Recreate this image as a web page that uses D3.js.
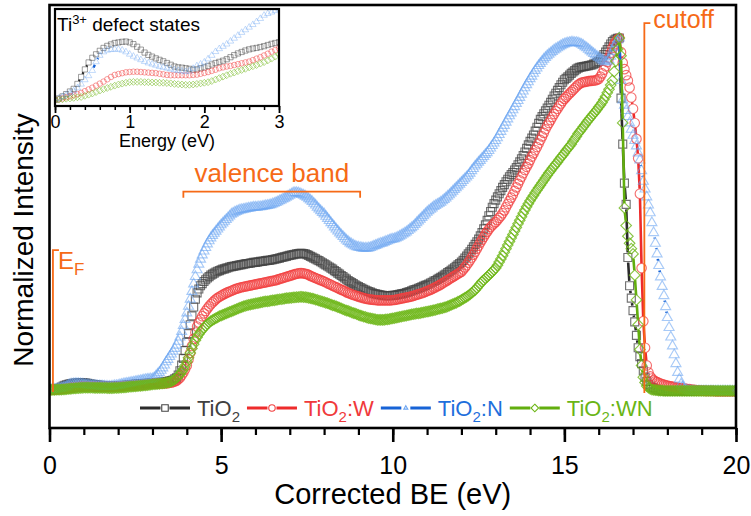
<!DOCTYPE html>
<html>
<head>
<meta charset="utf-8">
<script src="https://cdn.jsdelivr.net/npm/d3@7"></script>
<style>
  body { margin: 0; background: #fff; }
  svg { display: block; }
  text { font-family: "Liberation Sans", Arial, sans-serif; }
</style>
</head>
<body>
<svg id="chart" width="751" height="516"></svg>
<script>
// Valence-band / secondary-edge spectra, normalised so the edge maximum = 1000.
// Sampled every 0.05 eV from 0 to 20 eV (one row per eV).
const energy = d3.range(401).map(i => +(i * 0.05).toFixed(2));

const tio2 = [
  5.9,6.4,7.1,7.9,8.8,9.7,11.4,13.8,16.4,18.8,20.4,21.6,22.8,23.8,24.5,25.0,25.5,25.7,25.9,26.0,
  25.7,25.1,24.2,23.2,22.2,21.4,20.8,20.2,19.7,19.2,18.6,18.0,17.4,17.1,17.0,16.8,16.6,16.3,16.4,16.8,
  17.1,17.6,18.1,18.6,19.0,19.4,19.9,20.6,21.3,21.9,22.4,22.9,23.3,23.6,23.8,24.1,24.4,24.8,25.2,25.5,
  25.8,26,26,26,27,27,28,28,29,30,31,32,34,37,40,48,60,76,95,117,
  140,165,190,215,240,262,280,291,300,306,312,317,322,326,330,333,336,339,341,343,
  345,347,348,350,351,353,354,355,356,357,358,359,360,361,362,363,363,364,365,366,
  366,367,368,369,369,370,371,372,372,373,374,375,376,377,378,380,381,382,383,385,
  386,387,388,389,390,391,392,392,391,390,388,386,383,381,378,376,373,371,368,365,
  362,359,356,353,350,347,343,340,336,333,329,326,322,319,315,312,309,306,303,300,
  298,295,293,290,288,286,284,282,280,278,277,276,275,274,273,272,272,272,272,272,
  273,273,274,275,276,277,278,279,281,282,284,286,288,289,291,293,295,297,299,301,
  303,305,308,310,313,315,318,321,324,327,330,333,337,340,344,347,351,355,359,363,
  367,372,378,384,390,396,403,410,417,424,432,441,450,461,472,485,498,510,522,532,
  542,551,560,569,578,586,594,601,608,614,620,627,634,642,650,659,668,678,688,698,
  708,717,726,737,748,759,770,778,786,794,802,810,818,827,836,844,852,860,868,875,
  882,886,890,895,900,904,908,912,915,917,918,919,920,921,922,923,924,926,928,931,
  934,940,946,953,960,967,975,983,990,994,997,999,1000,830,700,590,530,380,300,265,
  230,198,160,125,100,80,60,42,30,22,17,13,11,8,6,5,4,4,3,3,
  2,2,2,2,2,2,2,2,2,2,2,2,2,2,2,2,2,2,2,2,
  2,2,2,2,2,2,2,2,2,2,2,2,2,2,2,2,2,2,2,2,
  2
];

const tio2W = [
  5.9,6.1,6.4,6.8,7.1,7.5,7.9,8.3,8.9,9.5,10.1,10.8,11.5,12.2,13.0,13.8,14.5,14.8,15.1,15.4,
  15.5,15.6,15.6,15.5,15.4,15.3,15.2,15.1,14.9,14.7,14.5,14.4,14.4,14.4,14.4,14.4,14.4,14.5,14.6,14.9,
  15.2,15.5,15.9,16.3,16.8,17.1,17.4,17.6,17.9,18.2,18.5,18.8,19.1,19.6,20.1,20.6,21.2,21.8,22.5,23.1,
  23.7,24,24,24,24,24,24,25,25,25,26,27,28,30,32,36,40,47,55,64,
  75,92,110,130,150,168,185,196,205,214,222,229,236,242,248,253,258,262,266,269,
  272,275,277,280,282,284,286,288,290,292,293,295,296,297,298,299,300,301,302,303,
  304,305,306,307,308,309,310,311,312,313,314,315,316,318,319,321,322,324,325,327,
  328,330,331,333,334,335,336,336,335,334,333,331,328,326,324,322,320,318,316,314,
  312,310,307,305,303,300,298,296,294,291,289,287,285,282,280,278,276,274,273,271,
  270,268,267,265,264,263,262,261,261,260,260,259,259,259,259,259,259,259,259,259,
  260,260,261,262,263,264,265,266,267,268,269,270,272,273,275,276,278,279,281,283,
  285,287,289,291,294,296,299,301,304,307,310,313,316,319,322,325,328,331,334,337,
  340,346,352,358,365,372,380,388,396,405,413,422,430,438,446,453,460,466,471,476,
  480,486,492,498,505,513,522,531,540,549,558,568,578,588,598,608,618,627,636,645,
  655,665,674,683,692,702,712,722,732,742,752,760,768,777,785,793,800,808,815,822,
  828,833,838,843,848,853,858,863,868,871,874,875,876,877,878,879,879,880,880,882,
  884,891,900,910,920,932,945,958,972,982,990,996,1000,960,930,912,895,880,860,832,
  800,760,715,660,560,350,200,125,75,55,44,38,33,30,28,26,24,22,21,19,
  18,17,16,15,14,13,12,11,11,10,10,9,8,8,7,6,6,5,5,4,
  4,4,3,3,3,3,3,3,2,2,2,2,2,2,2,2,2,2,2,2,
  2
];

const tio2N = [
  5.9,6.4,7.0,7.6,8.3,9.0,10.0,11.3,12.8,14.2,16.0,19.0,21.2,22.4,23.0,23.2,23.3,23.3,23.0,22.4,
  21.6,20.9,20.3,19.7,19.1,18.6,18.2,17.8,17.4,17.1,16.8,16.5,16.2,16.0,15.8,15.6,15.8,16.7,17.6,18.2,
  18.9,20.0,21.2,22.5,23.5,24.3,25.1,26.1,27.1,28.1,29.1,30.0,30.9,31.8,32.8,33.9,35.0,35.6,36.1,36.6,
  37.1,40,45,50,55,61,68,76,85,92,100,107,115,123,132,143,155,171,188,205,
  223,242,262,284,305,326,345,361,375,387,398,408,418,427,435,442,448,454,460,466,
  472,477,482,487,492,497,502,505,508,510,512,514,515,516,517,518,519,520,521,522,
  522,522,523,523,524,525,526,527,528,529,531,533,535,537,540,542,545,547,550,553,
  556,559,562,563,563,562,560,558,556,553,550,546,542,538,533,528,522,517,512,507,
  503,496,490,484,478,472,466,460,455,449,444,439,434,429,425,421,418,415,412,410,
  409,408,407,406,406,406,407,408,410,412,414,416,418,420,421,423,425,427,429,431,
  432,433,435,437,440,443,446,449,452,456,460,464,468,473,478,483,488,493,498,503,
  508,512,516,520,524,527,530,533,536,540,544,548,553,557,562,567,572,577,582,587,
  592,597,602,607,612,618,625,631,638,643,649,654,660,665,671,676,682,689,696,703,
  710,718,727,736,745,753,762,771,780,788,797,806,815,823,832,841,850,859,868,876,
  885,892,900,908,915,922,928,934,940,945,950,954,958,962,966,969,972,975,978,981,
  983,985,986,987,988,988,987,987,986,984,982,979,975,972,968,964,960,956,952,948,
  945,941,938,935,932,934,938,948,962,974,985,994,1000,880,825,810,795,778,760,742,
  725,710,695,675,655,625,595,573,551,528,506,478,450,420,390,357,325,298,272,241,
  210,182,155,130,105,80,55,36,22,14,9,6,4,3,3,2,2,2,2,2,
  2,2,2,2,2,2,2,2,2,2,2,2,2,2,2,2,2,2,2,2,
  2
];

const tio2WN = [
  5.9,6.0,6.1,6.3,6.4,6.6,6.8,6.9,7.3,7.7,8.1,8.6,9.1,9.6,10.0,10.4,10.8,11.2,11.5,11.8,
  12.0,12.1,12.1,12.1,12.0,12.0,11.9,11.9,11.8,11.8,11.7,11.6,11.4,11.3,11.2,11.1,11.1,11.2,11.4,11.6,
  11.8,12.0,12.4,12.9,13.4,13.9,14.4,14.9,15.3,15.8,16.2,16.6,17.1,17.5,17.9,18.4,18.9,19.5,20.1,20.8,
  21.5,22,22,23,23,24,24,25,26,27,28,30,33,36,40,45,50,57,64,74,
  85,97,110,123,135,146,155,163,170,176,182,187,192,196,200,203,206,209,211,214,
  216,218,220,222,224,226,228,230,232,234,236,238,240,242,243,245,246,247,248,249,
  250,251,252,253,254,255,256,256,257,258,259,259,260,261,262,262,263,264,265,265,
  266,266,267,267,268,268,269,269,268,268,267,266,265,264,263,261,260,258,257,255,
  254,252,251,249,247,245,244,242,240,238,236,234,232,230,229,227,225,223,222,220,
  218,216,215,213,212,210,209,208,207,206,205,204,204,204,204,204,205,205,206,207,
  208,209,210,211,212,213,214,215,216,217,218,219,220,221,222,222,223,224,225,226,
  227,228,229,230,231,232,234,235,236,237,239,240,242,244,246,248,250,252,255,257,
  260,263,266,269,272,276,280,284,288,294,300,306,312,316,321,325,330,335,340,345,
  350,358,367,376,385,395,405,415,425,435,445,455,465,475,485,495,505,514,523,532,
  540,548,555,563,570,577,584,591,598,605,612,619,625,632,638,644,650,657,663,669,
  675,682,688,694,700,708,715,722,730,736,742,749,755,762,768,774,780,786,792,798,
  805,811,818,826,835,845,855,867,880,905,935,968,1000,950,760,520,470,440,420,405,
  390,330,260,190,120,75,42,27,17,12,9,7,6,5,5,4,4,4,3,3,
  3,3,3,3,3,3,3,3,3,3,3,3,3,3,3,3,3,3,3,3,
  3,3,3,3,3,3,3,3,3,3,3,3,3,3,3,3,3,3,3,3,
  3
];

const seriesLabels = [["TiO", "2", ""], ["TiO", "2", ":W"], ["TiO", "2", ":N"], ["TiO", "2", ":WN"]];
const xTickLabels = [0, 5, 10, 15, 20];
const insetTickLabels = [0, 1, 2, 3];

// Annotation anchors (eV on x, normalised intensity on y)
const fermiLevel = 0.1;
const cutoffEnergy = 17.33;
const valenceBand = [3.9, 9.05];

// ---------------------------------------------------------------
const svg = d3.select("#chart");
const orange = "#f66a17";

const plot = { left: 49.5, right: 736, top: 5, bottom: 428 };
const x = d3.scaleLinear().domain([0, 20]).range([plot.left, plot.right]);
const y = d3.scaleLinear().domain([-101.7, 1093.2]).range([plot.bottom, plot.top]);

const inset = { left: 55, right: 279, top: 9, bottom: 106 };
const xi = d3.scaleLinear().domain([0, 3]).range([inset.left, inset.right]);
const yi = d3.scaleLinear().domain([3.8, 37.2]).range([inset.bottom, inset.top]);

const series = [
  { values: tio2,   label: seriesLabels[0], shape: "square",
    marker: "#434343", line: "#2b2b2b", text: "#404040", op: 0.75 },
  { values: tio2W,  label: seriesLabels[1], shape: "circle",
    marker: "#f24040", line: "#ee2b2b", text: "#f0393b", op: 0.75 },
  { values: tio2N,  label: seriesLabels[2], shape: "triangle",
    marker: "#6ea6f2", line: "#1763d6", text: "#1e6fdc", op: 0.6 },
  { values: tio2WN, label: seriesLabels[3], shape: "diamond",
    marker: "#6db616", line: "#62ae0e", text: "#6ab516", op: 0.8 }
];

function symbolPath(shape, s) {
  const h = s / 2;
  if (shape === "square") return `M${-h},${-h}H${h}V${h}H${-h}Z`;
  if (shape === "circle") return d3.symbol(d3.symbolCircle, Math.PI * h * h)();
  if (shape === "triangle") {
    const r = s / Math.sqrt(3);
    return `M0,${-r}L${h},${r / 2}L${-h},${r / 2}Z`;
  }
  const d = h * 1.18;
  return `M0,${-d}L${d},0L0,${d}L${-d},0Z`;
}
const mainSize = { square: 8, circle: 9.5, triangle: 10, diamond: 9 };
const insetSize = { square: 5.2, circle: 5.6, triangle: 6.5, diamond: 5.8 };

// connecting line drawn only between symbols (gap around each symbol)
function gappedPath(pts, gap) {
  let d = "";
  for (let i = 1; i < pts.length; i++) {
    const [x0, y0] = pts[i - 1], [x1, y1] = pts[i];
    const dx = x1 - x0, dy = y1 - y0, L = Math.hypot(dx, dy);
    if (L > 2 * gap + 0.5) {
      const ux = dx / L, uy = dy / L;
      d += `M${x0 + ux * gap},${y0 + uy * gap}L${x1 - ux * gap},${y1 - uy * gap}`;
    }
  }
  return d;
}

const defs = svg.append("defs");
defs.append("clipPath").attr("id", "plotClip").append("rect")
  .attr("x", plot.left).attr("y", plot.top)
  .attr("width", plot.right - plot.left).attr("height", plot.bottom - plot.top);
defs.append("clipPath").attr("id", "insetClip").append("rect")
  .attr("x", inset.left).attr("y", inset.top)
  .attr("width", inset.right - inset.left).attr("height", inset.bottom - inset.top);

// ---- main spectra ----
const marks = svg.append("g").attr("clip-path", "url(#plotClip)");
series.forEach(s => {
  const pts = energy.map((e, i) => [x(e), y(s.values[i])]);
  const g = marks.append("g");
  g.selectAll("path.m").data(pts).join("path")
    .attr("class", "m")
    .attr("d", symbolPath(s.shape, mainSize[s.shape]))
    .attr("transform", d => `translate(${d[0]},${d[1]})`)
    .attr("fill", "none")
    .attr("stroke", s.marker)
    .attr("stroke-opacity", s.op)
    .attr("stroke-width", 1.15);
  g.append("path")
    .attr("d", gappedPath(pts, 5))
    .attr("fill", "none")
    .attr("stroke", s.line)
    .attr("stroke-width", 2.6);
});

// ---- frame and bottom axis ----
svg.append("rect")
  .attr("x", plot.left).attr("y", plot.top)
  .attr("width", plot.right - plot.left).attr("height", plot.bottom - plot.top)
  .attr("fill", "none").attr("stroke", "#000").attr("stroke-width", 2.6);

const minorAxis = d3.axisBottom(x).tickValues(d3.range(0, 21, 1)).tickSize(7).tickFormat("");
svg.append("g").attr("transform", `translate(0,${plot.bottom})`).call(minorAxis)
  .call(g => g.select(".domain").remove())
  .call(g => g.selectAll("line").attr("stroke", "#000").attr("stroke-width", 2.2));

const majorAxis = d3.axisBottom(x).tickValues(xTickLabels).tickSize(14).tickPadding(14)
  .tickFormat(d3.format("d"));
svg.append("g").attr("transform", `translate(0,${plot.bottom})`).call(majorAxis)
  .call(g => g.select(".domain").remove())
  .call(g => g.selectAll("line").attr("stroke", "#000").attr("stroke-width", 2.6))
  .call(g => g.selectAll("text").attr("font-size", 25).attr("fill", "#000")
    .attr("font-family", "Liberation Sans, Arial, sans-serif"));

svg.append("text")
  .attr("x", (plot.left + plot.right) / 2).attr("y", 504)
  .attr("text-anchor", "middle").attr("font-size", 29)
  .text("Corrected BE (eV)");

svg.append("text")
  .attr("transform", "translate(33,240) rotate(-90)")
  .attr("text-anchor", "middle").attr("font-size", 28)
  .text("Normalized Intensity");

// ---- annotations ----
const ann = svg.append("g").attr("fill", "none").attr("stroke", orange).attr("stroke-width", 1.8);
const xEF = x(fermiLevel), yEFTop = y(401);
ann.append("path").attr("d", `M${xEF + 6},${yEFTop}H${xEF}V${y(0)}`);
const ef = svg.append("text").attr("x", xEF + 5).attr("y", yEFTop + 19)
  .attr("font-size", 24).attr("fill", orange);
ef.append("tspan").text("E");
ef.append("tspan").attr("dy", 6).attr("font-size", 17).text("F");

const vbY = y(566);
ann.append("path").attr("d",
  `M${x(valenceBand[0])},${vbY + 6}V${vbY}H${x(valenceBand[1])}V${vbY + 6}`);
svg.append("text")
  .attr("x", (x(valenceBand[0]) + x(valenceBand[1])) / 2).attr("y", vbY - 10)
  .attr("text-anchor", "middle").attr("font-size", 26).attr("fill", orange)
  .text("valence band");

const xCut = x(cutoffEnergy), yCutTop = y(1042);
ann.append("path").attr("d", `M${xCut + 6},${yCutTop}H${xCut}V${y(-3)}`);
svg.append("text").attr("x", xCut + 9).attr("y", yCutTop + 5)
  .attr("font-size", 25).attr("fill", orange).text("cutoff");

// ---- legend ----
const legend = svg.append("g");
let lx = 140;
const legendY = 408;
series.forEach(s => {
  const x0 = lx, x1 = lx + 50, cx = lx + 25, gap = 4.5;
  legend.append("path")
    .attr("d", `M${x0},${legendY}H${cx - gap}M${cx + gap},${legendY}H${x1}`)
    .attr("stroke", s.line).attr("stroke-width", 3);
  legend.append("path")
    .attr("d", symbolPath(s.shape, s.shape === "triangle" ? 4 : 6.5))
    .attr("transform", `translate(${cx},${legendY})`)
    .attr("fill", "none").attr("stroke", s.marker).attr("stroke-width", 1.1);
  const t = legend.append("text").attr("x", x1 + 7).attr("y", legendY + 8)
    .attr("font-size", 22).attr("fill", s.text);
  t.append("tspan").text(s.label[0]);
  t.append("tspan").attr("dy", 6).attr("font-size", 15).text(s.label[1]);
  t.append("tspan").attr("dy", -6).text(s.label[2]);
  lx = x1 + 7 + t.node().getComputedTextLength() + 7;
});

// ---- inset: gap states (0-3 eV of the same spectra) ----
const ins = svg.append("g");
ins.append("rect")
  .attr("x", inset.left).attr("y", inset.top)
  .attr("width", inset.right - inset.left).attr("height", inset.bottom - inset.top)
  .attr("fill", "#fff");

const gapIdx = energy.map((e, i) => i).filter(i => energy[i] <= 3);
const insMarks = ins.append("g").attr("clip-path", "url(#insetClip)");
series.forEach(s => {
  const pts = gapIdx.map(i => [xi(energy[i]), yi(s.values[i])]);
  const g = insMarks.append("g");
  g.selectAll("path.m").data(pts).join("path")
    .attr("class", "m")
    .attr("d", symbolPath(s.shape, insetSize[s.shape]))
    .attr("transform", d => `translate(${d[0]},${d[1]})`)
    .attr("fill", "none")
    .attr("stroke", s.marker)
    .attr("stroke-opacity", s.op * 0.75)
    .attr("stroke-width", 0.9);
  g.append("path")
    .attr("d", gappedPath(pts, 3.2))
    .attr("fill", "none")
    .attr("stroke", s.line)
    .attr("stroke-width", 2.4);
});

ins.append("rect")
  .attr("x", inset.left).attr("y", inset.top)
  .attr("width", inset.right - inset.left).attr("height", inset.bottom - inset.top)
  .attr("fill", "none").attr("stroke", "#000").attr("stroke-width", 2.2);

const insMinor = d3.axisBottom(xi).tickValues(d3.range(0, 3.01, 0.2)).tickSize(4).tickFormat("");
ins.append("g").attr("transform", `translate(0,${inset.bottom})`).call(insMinor)
  .call(g => g.select(".domain").remove())
  .call(g => g.selectAll("line").attr("stroke", "#000").attr("stroke-width", 1.5));
const insMajor = d3.axisBottom(xi).tickValues(insetTickLabels).tickSize(7).tickPadding(2)
  .tickFormat(d3.format("d"));
ins.append("g").attr("transform", `translate(0,${inset.bottom})`).call(insMajor)
  .call(g => g.select(".domain").remove())
  .call(g => g.selectAll("line").attr("stroke", "#000").attr("stroke-width", 1.8))
  .call(g => g.selectAll("text").attr("font-size", 18).attr("fill", "#000")
    .attr("font-family", "Liberation Sans, Arial, sans-serif"));

ins.append("text")
  .attr("x", (inset.left + inset.right) / 2).attr("y", 147)
  .attr("text-anchor", "middle").attr("font-size", 18)
  .text("Energy (eV)");

const ti = ins.append("text").attr("x", 57).attr("y", 31).attr("font-size", 19);
ti.append("tspan").text("Ti");
ti.append("tspan").attr("dy", -7).attr("font-size", 13).text("3+");
ti.append("tspan").attr("dy", 7).text(" defect states");
</script>
</body>
</html>
